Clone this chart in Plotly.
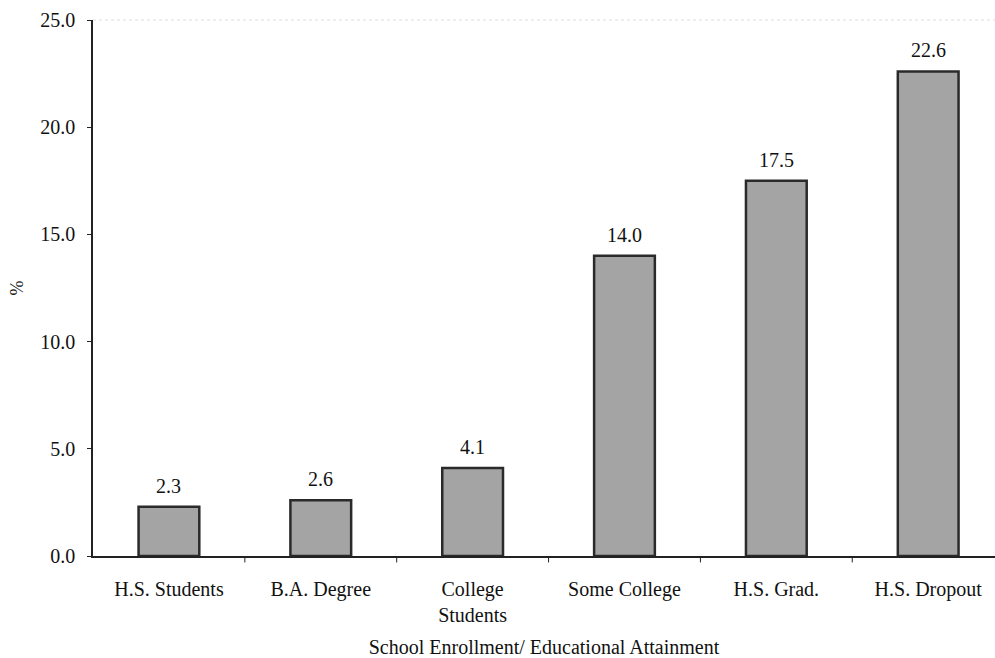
import plotly.graph_objects as go

categories = ["H.S. Students", "B.A. Degree", "College<br>Students",
              "Some College", "H.S. Grad.", "H.S. Dropout"]
values = [2.3, 2.6, 4.1, 14.0, 17.5, 22.6]
y_ticks = [0, 5, 10, 15, 20, 25]
y_tick_labels = ["0.0", "5.0", "10.0", "15.0", "20.0", "25.0"]

font_family = "Liberation Serif, Times New Roman, serif"
ink = "#111111"

positions = list(range(len(categories)))

fig = go.Figure(
    go.Bar(
        x=positions,
        y=values,
        width=0.4,
        marker=dict(color="#a4a4a4", line=dict(color="#2a2a2a", width=2.5)),
    )
)

# Value labels above each bar
for xi, v in zip(positions, values):
    fig.add_annotation(x=xi, y=v, text=f"{v:.1f}", showarrow=False,
                       xanchor="center", yanchor="bottom", yshift=8,
                       font=dict(family=font_family, size=20, color=ink))

fig.update_layout(
    width=995,
    height=658,
    margin=dict(l=93, r=0, t=20, b=102),
    paper_bgcolor="white",
    plot_bgcolor="white",
    showlegend=False,
    font=dict(family=font_family, size=20, color=ink),
    xaxis=dict(
        range=[-0.5, 5.44],
        tickmode="array",
        tickvals=positions,
        ticktext=categories,
        ticks="",
        ticklabelstandoff=14,
        automargin=False,
        showline=True,
        linecolor="#222222",
        linewidth=1.5,
        showgrid=False,
        zeroline=False,
        tickfont=dict(size=20),
        title=dict(text="School Enrollment/ Educational Attainment",
                   font=dict(size=20), standoff=22),
    ),
    yaxis=dict(
        range=[0, 25],
        tickmode="array",
        tickvals=y_ticks,
        ticktext=y_tick_labels,
        ticks="outside",
        ticklen=4,
        tickcolor="#222222",
        ticklabelstandoff=8,
        automargin=False,
        showline=True,
        linecolor="#222222",
        linewidth=1.5,
        showgrid=False,
        zeroline=False,
        tickfont=dict(size=20),
        title=dict(text="%", font=dict(size=18), standoff=12),
    ),
)

# Category separator ticks below the baseline
for i in range(len(categories)):
    fig.add_shape(type="line", xref="x", yref="paper",
                  x0=i + 0.5, x1=i + 0.5, y0=0, y1=-0.012,
                  line=dict(color="#222222", width=1))

# Faint top border
fig.add_shape(type="line", xref="paper", yref="paper",
              x0=0, x1=1, y0=1, y1=1,
              line=dict(color="#dddddd", width=1, dash="dot"))

fig.write_html("out.html")
